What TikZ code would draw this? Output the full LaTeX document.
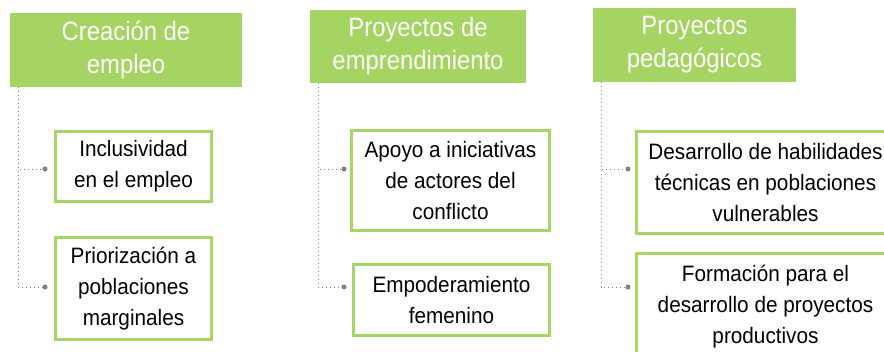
\documentclass[tikz,border=0pt]{standalone}
\usepackage{fontspec}
\setmainfont{Liberation Sans}
\newfontfamily\bodyfont{Liberation Sans}[FakeStretch=0.93]
\newfontfamily\hdrfont{Liberation Sans}[FakeStretch=0.9]
\definecolor{hdrgreen}{HTML}{A5D462}
\definecolor{boxgreen}{HTML}{A6D766}
\definecolor{dotgray}{HTML}{7F7F7F}
\begin{document}
\begin{tikzpicture}[x=1pt,y=-1pt,
  hdr/.style={fill=hdrgreen, draw=none, text=white, align=center, inner sep=0pt,
    font=\hdrfont\fontsize{26.5}{33}\selectfont},
  itembox/.style={draw=boxgreen, line width=3pt, fill=white, align=center, inner sep=0pt,
    font=\bodyfont\fontsize{22.3}{31}\selectfont},
  conn/.style={draw=dotgray, line width=1pt, dash pattern=on 1pt off 3pt},
  dotmark/.style={circle, fill=dotgray, inner sep=0pt, minimum size=5pt}
]
\useasboundingbox (0,0) rectangle (884,351);
\clip (0,0) rectangle (884,351);

% column 1
\node[hdr, minimum width=232, minimum height=74] (h1) at (126,50) {Creación de\\empleo};
\node[itembox, minimum width=156, minimum height=70] (b11) at (133.5,166.5) {Inclusividad\\en el empleo};
\node[itembox, minimum width=156, minimum height=102] (b12) at (133.5,288.5) {Priorización a\\poblaciones\\marginales};
\coordinate (c1) at (18,87);
\node[dotmark] (d11) at (45,169) {};
\node[dotmark] (d12) at (45,287) {};
\draw[conn] (c1) |- (d11);
\draw[conn] (c1) |- (d12);

% column 2
\node[hdr, minimum width=216, minimum height=73] (h2) at (418,46.5) {Proyectos de\\emprendimiento};
\node[itembox, minimum width=198, minimum height=100] (b21) at (450.5,180.5) {Apoyo a iniciativas\\de actores del\\conflicto};
\node[itembox, minimum width=196, minimum height=71] (b22) at (451.5,300) {Empoderamiento\\femenino};
\coordinate (c2) at (318,83);
\node[dotmark] (d21) at (344,169) {};
\node[dotmark] (d22) at (344,287) {};
\draw[conn] (c2) |- (d21);
\draw[conn] (c2) |- (d22);

% column 3
\node[hdr, minimum width=203, minimum height=74] (h3) at (694.5,45) {Proyectos\\pedagógicos};
\node[itembox, minimum width=258, minimum height=102] (b31) at (765.5,182.5) {Desarrollo de habilidades\\técnicas en poblaciones\\vulnerables};
\node[itembox, minimum width=258, minimum height=107] (b32) at (765.5,307) {Formación para el\\desarrollo de proyectos\\productivos};
\coordinate (c3) at (601,82);
\node[dotmark] (d31) at (628,169) {};
\node[dotmark] (d32) at (628,287) {};
\draw[conn] (c3) |- (d31);
\draw[conn] (c3) |- (d32);
\end{tikzpicture}
\end{document}
